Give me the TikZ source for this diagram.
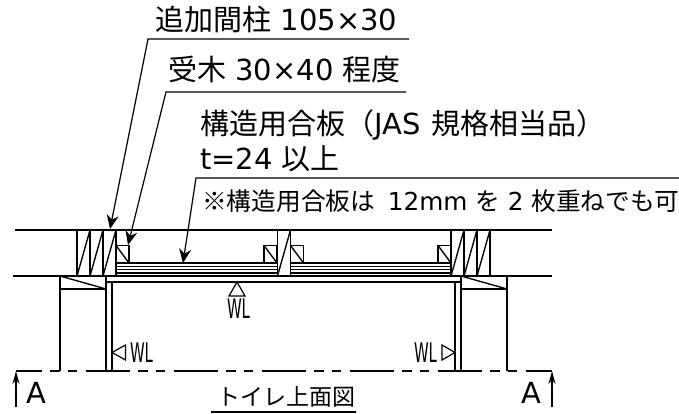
\documentclass[tikz,border=0pt]{standalone}
\usepackage{fontspec}
\usetikzlibrary{arrows.meta}
\setmainfont{DejaVu Sans}
\newfontfamily\cjk{Noto Sans CJK JP}

\begin{document}
\begin{tikzpicture}[x=1pt, y=-1pt]
	\tikzset{
		trait/.style={line width=1.35pt, black},
		fin/.style={line width=1.2pt, black},
		fleche/.style={line width=1.2pt, -{Stealth[length=14pt, width=12pt]}},
		coupe/.style={line width=1.2pt, -{Stealth[length=13pt, width=7pt]}},
		titre/.style={anchor=base west, inner sep=0pt, font=\fontsize{29}{29}\selectfont},
		petit/.style={anchor=base west, inner sep=0pt, font=\fontsize{24.7}{24.7}\selectfont},
		wl/.style={inner sep=0pt, xscale=0.55, font=\fontsize{27}{27}\selectfont}
	};
	\useasboundingbox (0,0) rectangle (679,414);

	% libelles
	\node[titre] (t1) at (155.5, 31) {{\cjk 追加間柱} 105×30};
	\node[titre] (t2) at (168, 81) {{\cjk 受木} 30×40 {\cjk 程度}};
	\node[titre] (t3) at (200,135) {{\cjk 構造用合板（}JAS\hspace{2pt} {\cjk 規格相当品）}};
	\node[titre] (t4) at (200,170) {t=24 {\cjk 以上}};
	\node[petit] (t5) at (202,210.5) {{\cjk ※構造用合板は}\hspace{5pt} 12mm {\cjk を} 2 {\cjk 枚重ねでも可}};

	% lignes de rappel
	\coordinate (r1a) at (409, 39);
	\coordinate (r1b) at (148, 39);
	\coordinate (r1c) at (110,229);
	\coordinate (r2a) at (406, 92);
	\coordinate (r2b) at (166, 92);
	\coordinate (r2c) at (128,245);
	\coordinate (r3a) at (679,178);
	\coordinate (r3b) at (196,178);
	\coordinate (r3c) at (183,263);
	\draw[fleche] (r1a) -- (r1b) -- (r1c);
	\draw[fleche] (r2a) -- (r2b) -- (r2c);
	\draw[fleche] (r3a) -- (r3b) -- (r3c);

	% murs
	\draw[trait] (15,230) -- (552,230);
	\draw[trait] (13,276) -- (552,276);
	\draw[trait] (106,282) -- (461,282);
	\draw[trait] (60,276) -- (60,371);
	\draw[trait] (106,276) -- (106,371);
	\draw[trait] (112,282) -- (112,371);
	\draw[trait] (455,282) -- (455,371);
	\draw[trait] (461,276) -- (461,371);
	\draw[trait] (507,276) -- (507,371);

	% montants
	\foreach \x in {77,90,103,277.5,451,464,477} {
		\draw[trait] (\x,230) rectangle ++(13,46);
		\draw[trait] (\x,276) -- ++(13,-46);
	}

	% tasseaux
	\foreach \x in {116,264,290.5,438} {
		\draw[trait] (\x,245.5) rectangle ++(13,17.5);
		\draw[trait] (\x,245.5) -- ++(13,17.5);
	}

	% blocs
	\foreach \x in {60,461} {
		\draw[trait] (\x,276) rectangle ++(46,13);
		\draw[trait] (\x,276) -- ++(46,13);
	}

	% panneau
	\foreach \y in {263,266.3,269.6,273} {
		\draw[fin] (116,\y) -- (277.5,\y);
		\draw[fin] (290.5,\y) -- (451,\y);
	}

	% coupe
	\coordinate (c1) at (16,371);
	\coordinate (c2) at (552,371);
	\coordinate (c3) at (16,407);
	\coordinate (c4) at (552,407);
	\draw[trait, dash pattern=on 44.5pt off 8pt on 9.5pt off 8pt on 9.5pt off 8.5pt, dash phase=18.5pt] (c1) -- (c2);
	\draw[coupe] (c3) -- (c1);
	\draw[coupe] (c4) -- (c2);
	\node[titre] (a1) at (26.5,403) {A};
	\node[titre] (a2) at (521,403) {A};

	% niveaux
	\draw[fin] (237,282) -- (229,296) -- (245,296) -- cycle;
	\draw[fin] (112,352.5) -- (125.5,345) -- (125.5,360) -- cycle;
	\draw[fin] (455,352.5) -- (442,345) -- (442,360) -- cycle;
	\node[wl] (w1) at (238.5,309) {WL};
	\node[wl] (w2) at (141.5,353) {WL};
	\node[wl] (w3) at (425.5,353) {WL};

	% titre du plan
	\node[petit, font=\fontsize{23}{23}\selectfont] (t6) at (217,405) {\cjk トイレ上面図};
	\coordinate (s1) at (211,412);
	\coordinate (s2) at (356,412);
	\draw[trait] (s1) -- (s2);
\end{tikzpicture}
\end{document}
